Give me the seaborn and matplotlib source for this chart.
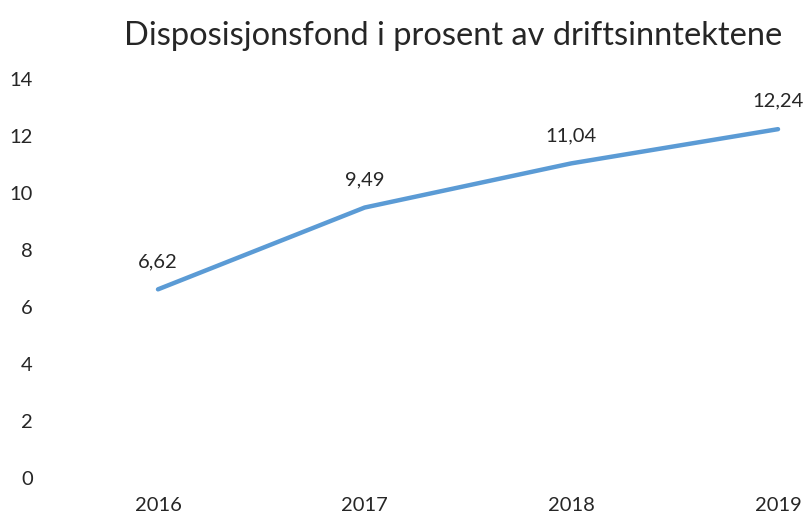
import matplotlib
matplotlib.use("Agg")
import matplotlib.pyplot as plt
import seaborn as sns
import pandas as pd

#data
years = ["2016", "2017", "2018", "2019"]
values = [6.62, 9.49, 11.04, 12.24]
labels = ["6,62", "9,49", "11,04", "12,24"]

df = pd.DataFrame({"year": years, "value": values})

sns.set_theme(style="white")
plt.rcParams['font.family'] = ['Lato', 'DejaVu Sans']

fig = plt.figure(figsize=(8.09, 5.17), dpi=100)
ax = fig.add_axes([0.1953, 0.0754, 0.7664, 0.7718])

sns.lineplot(data=df, x="year", y="value", ax=ax, color="#5B9BD5",
             linewidth=3.2, sort=False, clip_on=False)

#value labels
for i, (v, t) in enumerate(zip(values, labels)):
    ax.annotate(t, (i, v), xytext=(0, 14), textcoords="offset points",
                ha="center", va="bottom", fontsize=14.5, color="#262626")

ax.set_xlim(0, 3)
ax.set_ylim(0, 14)
ax.set_yticks(range(0, 15, 2))
ax.set_xlabel("")
ax.set_ylabel("")
ax.tick_params(axis="y", length=0, pad=90, labelsize=14.5, labelcolor="#262626")
ax.tick_params(axis="x", length=0, pad=14, labelsize=14.5, labelcolor="#262626")
for lab in ax.get_yticklabels():
    lab.set_horizontalalignment("right")
sns.despine(ax=ax, left=True, bottom=True)

fig.text(0.56, 0.93, "Disposisjonsfond i prosent av driftsinntektene",
         ha="center", va="center", fontsize=23.5, color="#262626")

fig.savefig("out.png", dpi=100)
